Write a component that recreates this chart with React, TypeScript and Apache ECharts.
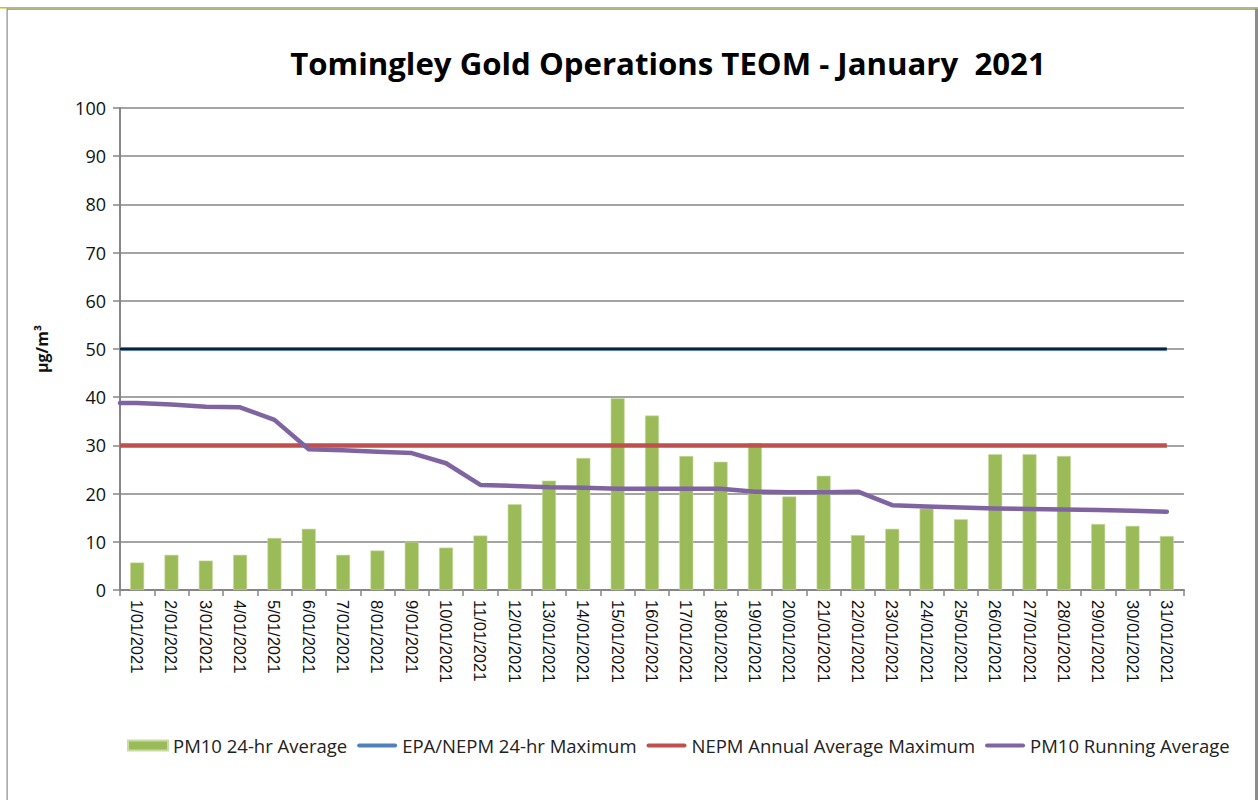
import React, { useEffect, useRef } from "react";
import * as echarts from "echarts";

const dates: string[] = Array.from({ length: 31 }, (_, i) => `${i + 1}/01/2021`);

const pm10Daily: number[] = [
  5.7, 7.3, 6.1, 7.3, 10.8, 12.7, 7.3, 8.2, 10.0, 8.8, 11.3,
  17.8, 22.7, 27.4, 39.8, 36.2, 27.8, 26.6, 30.5, 19.4, 23.7,
  11.4, 12.7, 16.9, 14.7, 28.2, 28.2, 27.8, 13.7, 13.3, 11.2,
];

const pm10Running: number[] = [
  38.8, 38.5, 38.0, 37.9, 35.3, 29.2, 29.0, 28.7, 28.4, 26.3, 21.8,
  21.6, 21.3, 21.2, 21.0, 21.0, 21.0, 21.0, 20.4, 20.3, 20.3,
  20.4, 17.6, 17.3, 17.1, 16.9, 16.8, 16.7, 16.6, 16.45, 16.25,
];

const epaMax = 50;
const nepmAnnualMax = 30;

const yTicks = { min: 0, max: 100, interval: 10 };

const seriesNames = [
  "PM10 24-hr Average",
  "EPA/NEPM 24-hr Maximum",
  "NEPM Annual Average Maximum",
  "PM10 Running Average",
];

const title = "Tomingley Gold Operations TEOM - January  2021";
const yName = "µg/m³";

const lineIcon = "path://M2,0 H38 A2,2 0 0 1 38,4 H2 A2,2 0 0 1 2,0 Z";

export default function App() {
  const ref = useRef<HTMLDivElement>(null);

  useEffect(() => {
    if (!ref.current) return;
    const chart = echarts.init(ref.current, undefined, { renderer: "svg" });
    const lastIdx = dates.length - 1;
    const constLine = (v: number) => [
      [-0.5, v],
      [lastIdx, v],
    ];
    const runData = [[-0.5, pm10Running[0]], ...pm10Running.map((v, i) => [i, v])];
    const gray = "#868686";

    chart.setOption({
      animation: false,
      backgroundColor: "#ffffff",
      textStyle: { fontFamily: "Liberation Sans" },
      grid: { left: 120, right: 74, top: 108, bottom: 210, containLabel: false },
      legend: {
        left: 122,
        top: 731,
        itemWidth: 40,
        itemHeight: 10,
        itemGap: 10,
        textStyle: { fontFamily: "Open Sans", fontSize: 18.5, color: "#222" },
        data: [
          { name: seriesNames[0], icon: "rect" },
          { name: seriesNames[1], icon: lineIcon },
          { name: seriesNames[2], icon: lineIcon },
          { name: seriesNames[3], icon: lineIcon },
        ],
      },
      xAxis: [
        {
          type: "category",
          data: dates,
          axisLine: { lineStyle: { color: gray, width: 2 } },
          axisTick: { show: true, alignWithLabel: false, length: 6, lineStyle: { color: gray, width: 1.5 } },
          axisLabel: {
            rotate: -90,
            interval: 0,
            fontSize: 16.5,
            color: "#111",
            margin: 10,
            fontFamily: "Liberation Sans",
          },
          splitLine: { show: false },
        },
        {
          type: "value",
          min: -0.5,
          max: lastIdx + 0.5,
          show: false,
          splitLine: { show: false },
        },
      ],
      yAxis: {
        type: "value",
        min: yTicks.min,
        max: yTicks.max,
        interval: yTicks.interval,
        name: yName,
        nameLocation: "middle",
        nameGap: 70,
        nameRotate: 90,
        nameTextStyle: { fontFamily: "Open Sans", fontWeight: "bold", fontSize: 16, color: "#111" },
        axisLine: { show: true, onZero: false, lineStyle: { color: gray, width: 2 } },
        axisTick: { show: true, length: 7, lineStyle: { color: gray, width: 1.5 } },
        axisLabel: { fontSize: 18, color: "#111", margin: 14, fontFamily: "Open Sans" },
        splitLine: { show: true, lineStyle: { color: gray, width: 1.5 } },
      },
      series: [
        {
          name: seriesNames[0],
          type: "bar",
          data: pm10Daily,
          barWidth: 14,
          itemStyle: { color: "#9BBB59", borderColor: "#c9dca3", borderWidth: 0.6 },
          z: 2,
        },
        {
          name: seriesNames[1],
          type: "line",
          xAxisIndex: 1,
          data: constLine(epaMax),
          symbol: "none",
          lineStyle: { color: "#4F81BD", width: 4 },
          itemStyle: { color: "#4F81BD" },
          z: 3,
        },
        {
          name: "epa-core",
          type: "line",
          xAxisIndex: 1,
          data: constLine(epaMax),
          symbol: "none",
          lineStyle: { color: "#000000", width: 1.6 },
          z: 4,
          silent: true,
        },
        {
          name: seriesNames[2],
          type: "line",
          xAxisIndex: 1,
          data: constLine(nepmAnnualMax),
          symbol: "none",
          lineStyle: { color: "#C0504D", width: 4.5 },
          itemStyle: { color: "#C0504D" },
          z: 3,
        },
        {
          name: seriesNames[3],
          type: "line",
          xAxisIndex: 1,
          data: runData,
          symbol: "none",
          lineStyle: { color: "#8064A2", width: 4.5, cap: "round", join: "round" },
          itemStyle: { color: "#8064A2" },
          z: 5,
        },
      ],
      graphic: [
        {
          type: "text",
          x: 668,
          y: 63,
          style: {
            text: title,
            x: 0,
            y: 0,
            fontFamily: "Open Sans",
            fontWeight: "bold",
            fontSize: 31.2,
            fill: "#000",
            textAlign: "center",
            textVerticalAlign: "middle",
          },
        },
        { type: "rect", shape: { x: 0, y: 7, width: 1258, height: 1.5 }, style: { fill: "#c6c800" } },
        { type: "rect", shape: { x: 7, y: 8.5, width: 1250, height: 1.2 }, style: { fill: "#8c8c8c" } },
        { type: "rect", shape: { x: 6.5, y: 8.5, width: 1.2, height: 792 }, style: { fill: "#8c8c8c" } },
        { type: "rect", shape: { x: 1255, y: 8.5, width: 3, height: 792 }, style: { fill: "#8c8c8c" } },
      ],
    });
    return () => chart.dispose();
  }, []);

  return (
    <div
      ref={ref}
      style={{ position: "absolute", left: 0, top: 0, width: 1258, height: 800, background: "#fff" }}
    />
  );
}
